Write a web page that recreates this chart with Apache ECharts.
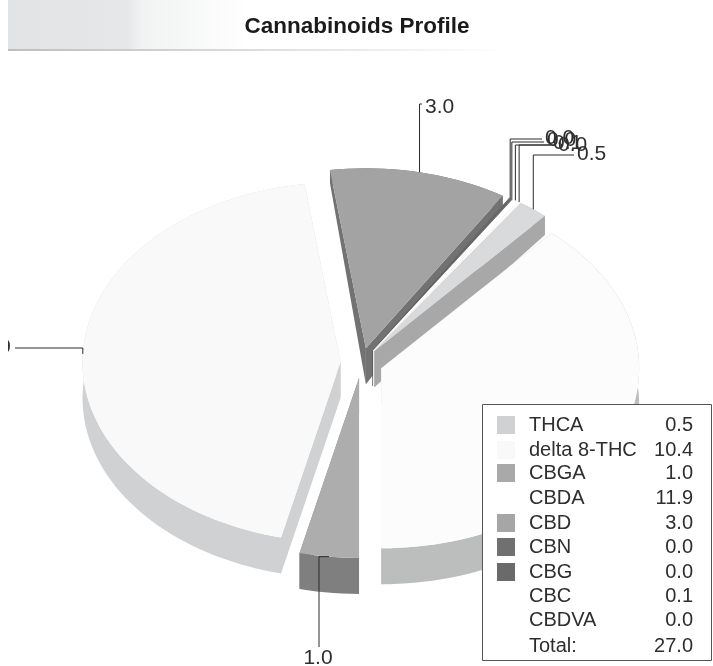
<!DOCTYPE html>
<html>
<head>
<meta charset="utf-8">
<title>Cannabinoids Profile</title>
<style>
html, body { margin: 0; padding: 0; background: #fff; }
#main { width: 713px; height: 666px; }
</style>
<script src="https://cdn.jsdelivr.net/npm/echarts@6/dist/echarts.min.js"></script>
</head>
<body>
<div id="main"></div>
<script>
// clockwise from the start angle, same order as the legend
var names = ['THCA', 'delta 8-THC', 'CBGA', 'CBDA', 'CBD', 'CBN', 'CBG', 'CBC', 'CBDVA'];
var values = [0.5, 10.4, 1.0, 11.9, 3.0, 0.03, 0.03, 0.1, 0.04];
var totalLabel = '27.0';

var topColors = ['#d8dadc', '#fcfcfc', '#adadad', '#f9f9f9', '#a3a3a3', '#6c6c6c', '#707070', '#ffffff', '#ffffff'];
var sideColors = ['#a8a8a8', '#bcbdbd', '#7f7f7f', '#d0d1d2', '#727272', '#555555', '#555555', '#efefef', '#efefef'];
var swatchColors = ['#cfd1d3', '#f9f9fa', '#a9a9a9', '#ffffff', '#a6a6a6', '#707070', '#6a6a6a', '#ffffff', '#ffffff'];
// where each leader ends
var leaderEnds = [
    { y: 155, textX: 577, textY: 154 },
    null,
    { down: 647, elbowX: 319, textX: 318, textY: 658 },
    { left: 15, y: 348 },
    { y: 104, textX: 425, textY: 107 },
    { y: 139, textX: 545, textY: 138 },
    { y: 142, textX: 547, textY: 140 },
    { y: 145, textX: 553, textY: 143 },
    { y: 145, textX: 558, textY: 145 }
];

var startAngle = 34.67;
var cx = 361.5, cy = 363;
var rx = 258, ry = 180;
var explodeX = 21, explodeY = 15;
var textColor = '#2e2e2e';
var fontFamily = '"Liberation Sans", Arial, sans-serif';

var total = values.reduce(function (a, b) { return a + b; }, 0);

function rad(deg) { return deg * Math.PI / 180; }

// the scan has some perspective, the wall gets thinner towards the back
function depthAt(y) {
    return Math.min(36, 19 + (y - 216) * 0.127);
}

var slices = [];
var acc = startAngle;
for (var i = 0; i < values.length; i++) {
    var span = values[i] / total * 360;
    var mid = acc + span / 2;
    slices.push({
        index: i,
        start: acc,
        end: acc + span,
        mid: mid,
        ox: cx + Math.sin(rad(mid)) * explodeX,
        oy: cy - Math.cos(rad(mid)) * explodeY
    });
    acc += span;
}

function rimPoint(s, deg) {
    return [s.ox + Math.sin(rad(deg)) * rx, s.oy - Math.cos(rad(deg)) * ry];
}

function down(p) {
    return [p[0], p[1] + depthAt(p[1])];
}

function sliceChildren(s) {
    var rim = [];
    var steps = Math.max(2, Math.ceil((s.end - s.start) / 2));
    for (var k = 0; k <= steps; k++) {
        rim.push(rimPoint(s, s.start + (s.end - s.start) * k / steps));
    }
    var apex = [s.ox, s.oy];
    var side = { fill: sideColors[s.index] };
    var wallStart = [apex, rim[0], down(rim[0]), down(apex)];
    var wallEnd = [apex, rim[rim.length - 1], down(rim[rim.length - 1]), down(apex)];
    var wallArc = rim.concat(rim.slice().reverse().map(down));
    return [
        { type: 'polygon', shape: { points: wallStart }, style: side },
        { type: 'polygon', shape: { points: wallEnd }, style: side },
        { type: 'polygon', shape: { points: wallArc }, style: side },
        { type: 'polygon', shape: { points: [apex].concat(rim) }, style: { fill: topColors[s.index] } }
    ];
}

// painter's order, back of the pie first
var drawOrder = slices.slice().sort(function (a, b) {
    return -Math.cos(rad(a.mid)) - -Math.cos(rad(b.mid));
});

function renderSlice(params, api) {
    var s = slices[api.value(0)];
    return { type: 'group', children: sliceChildren(s) };
}

function leaderLine(pts) {
    return {
        type: 'polyline',
        silent: true,
        z: 10,
        shape: { points: pts },
        style: { stroke: '#2a2a2a', lineWidth: 1, fill: null }
    };
}

function valueText(str, x, y, align, size) {
    return {
        type: 'text',
        silent: true,
        z: 12,
        x: x, y: y,
        style: { text: str, fill: textColor, font: (size || 20) + 'px ' + fontFamily, align: align || 'left', verticalAlign: 'middle' }
    };
}

var leaderGraphics = [];
slices.forEach(function (s) {
    var end = leaderEnds[s.index];
    if (!end) return;
    var a = rimPoint(s, s.mid);
    var str = values[s.index].toFixed(1);
    if (end.left !== undefined) {
        leaderGraphics.push(leaderLine([a, [a[0], end.y], [end.left, end.y]]));
        leaderGraphics.push(valueText(str, 11, end.y - 1, 'right', 21));
    } else if (end.down !== undefined) {
        leaderGraphics.push(leaderLine([a, [end.elbowX, a[1]], [end.elbowX, end.down]]));
        leaderGraphics.push(valueText(str, end.textX, end.textY, 'center', 21));
    } else {
        leaderGraphics.push(leaderLine([a, [a[0], end.y], [end.textX - 3, end.y]]));
        leaderGraphics.push(valueText(str, end.textX, end.textY, 'left', 21));
    }
});

var rowY = [425, 450, 473, 498, 523, 547, 572, 596, 620];
var legendGraphics = [{
    type: 'rect',
    silent: true,
    z: 11,
    shape: { x: 482.5, y: 404.5, width: 229, height: 256 },
    style: { fill: '#fff', stroke: '#555', lineWidth: 1 }
}];
names.forEach(function (name, i) {
    legendGraphics.push({
        type: 'rect',
        silent: true,
        z: 12,
        shape: { x: 497, y: rowY[i] - 9, width: 18, height: 18 },
        style: { fill: swatchColors[i] }
    });
    legendGraphics.push(valueText(name, 529, rowY[i]));
    legendGraphics.push(valueText(values[i].toFixed(1), 693, rowY[i], 'right'));
});
legendGraphics.push(valueText('Total:', 529, 646));
legendGraphics.push(valueText(totalLabel, 693, 646, 'right'));

var bandGraphics = [
    {
        type: 'rect',
        silent: true,
        shape: { x: 8, y: 0, width: 240, height: 50 },
        style: {
            fill: new echarts.graphic.LinearGradient(0, 0, 1, 0, [
                { offset: 0, color: '#e2e3e4' },
                { offset: 0.5, color: '#e6e7e8' },
                { offset: 0.55, color: '#f1f2f2' },
                { offset: 1, color: '#ffffff' }
            ])
        }
    },
    {
        type: 'rect',
        silent: true,
        shape: { x: 8, y: 49, width: 500, height: 2 },
        style: {
            fill: new echarts.graphic.LinearGradient(0, 0, 1, 0, [
                { offset: 0, color: '#bdbebf' },
                { offset: 0.5, color: '#dcdddd' },
                { offset: 1, color: '#ffffff' }
            ])
        }
    }
];

// the original chart image starts at x=8 and cuts the left label there
var leftCut = [{
    type: 'rect',
    silent: true,
    z: 20,
    shape: { x: 0, y: 320, width: 8, height: 60 },
    style: { fill: '#fff' }
}];

var chart = echarts.init(document.getElementById('main'));
chart.setOption({
    animation: false,
    backgroundColor: '#ffffff',
    title: {
        text: 'Cannabinoids Profile',
        left: 352,
        top: 10,
        textAlign: 'center',
        textStyle: { fontFamily: fontFamily, fontSize: 22.5, fontWeight: 'bold', color: '#1a1a1a' }
    },
    series: [{
        type: 'custom',
        coordinateSystem: 'none',
        silent: true,
        z: 2,
        renderItem: renderSlice,
        data: drawOrder.map(function (s) { return [s.index, values[s.index]]; })
    }],
    graphic: { elements: bandGraphics.concat(leaderGraphics, legendGraphics, leftCut) }
});
</script>
</body>
</html>
